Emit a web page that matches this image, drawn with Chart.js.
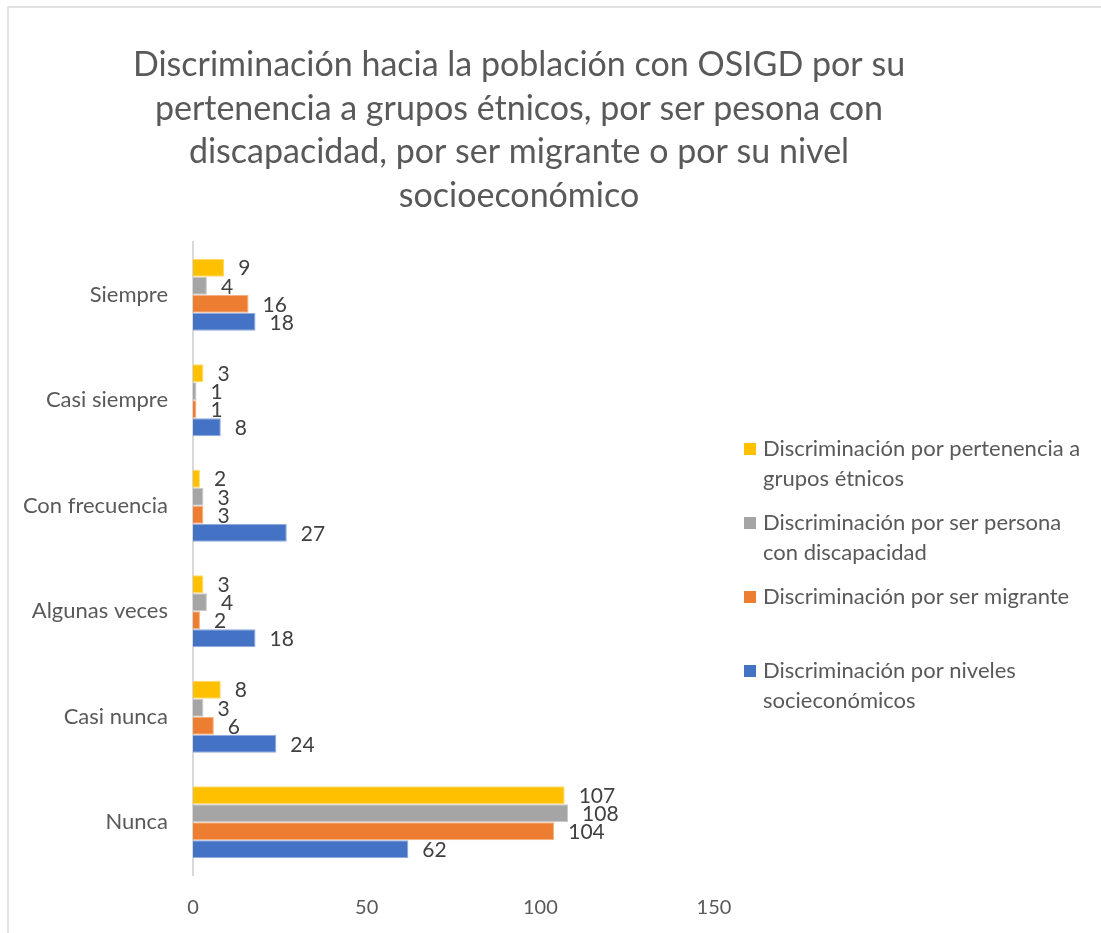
<!DOCTYPE html>
<html>
<head>
<meta charset="utf-8">
<script src="https://cdn.jsdelivr.net/npm/chart.js@4.4.1/dist/chart.umd.min.js"></script>
<style>
  html, body { margin: 0; padding: 0; background: #ffffff; }
  canvas { display: block; }
</style>
</head>
<body>
<canvas id="c" width="1101" height="933"></canvas>
<script>
const titleLines = [
  'Discriminación hacia la población con OSIGD por su',
  'pertenencia a grupos étnicos, por ser pesona con',
  'discapacidad, por ser migrante o por su nivel',
  'socioeconómico'
];
const categories = ['Siempre', 'Casi siempre', 'Con frecuencia', 'Algunas veces', 'Casi nunca', 'Nunca'];
const seriesNames = [
  'Discriminación por pertenencia a grupos étnicos',
  'Discriminación por ser persona con discapacidad',
  'Discriminación por ser migrante',
  'Discriminación por niveles socieconómicos'
];
const legendLines = [
  ['Discriminación por pertenencia a', 'grupos étnicos'],
  ['Discriminación por ser persona', 'con discapacidad'],
  ['Discriminación por ser migrante'],
  ['Discriminación por niveles', 'socieconómicos']
];
const etnicos      = [9, 3, 2, 3, 8, 107];
const discapacidad = [4, 1, 3, 4, 3, 108];
const migrante     = [16, 1, 3, 2, 6, 104];
const socioeco     = [18, 8, 27, 18, 24, 62];
const xTicks = [0, 50, 100, 150];

const colors = ['#FFC000', '#A5A5A5', '#ED7D31', '#4472C4'];
const borders = ['#FFD966', '#C9C9C9', '#F4B183', '#8FAADC'];
const FONT = 'Lato, "Open Sans", sans-serif';

const frame = {
  id: 'frame',
  beforeDraw(chart) {
    const ctx = chart.ctx;
    ctx.save();
    ctx.fillStyle = '#ffffff';
    ctx.fillRect(0, 0, chart.width, chart.height);
    ctx.strokeStyle = '#d9d9d9';
    ctx.lineWidth = 1.5;
    ctx.strokeRect(8, 7, chart.width + 20, chart.height + 20);
    ctx.restore();
  }
};

const titlePlugin = {
  id: 'customTitle',
  afterDraw(chart) {
    const ctx = chart.ctx;
    ctx.save();
    ctx.fillStyle = '#595959';
    ctx.font = '34px ' + FONT;
    ctx.textAlign = 'center';
    ctx.textBaseline = 'middle';
    titleLines.forEach((t, i) => ctx.fillText(t, 519, 65 + i * 43.7));
    ctx.restore();
  }
};

const legendPlugin = {
  id: 'customLegend',
  afterDraw(chart) {
    const ctx = chart.ctx;
    ctx.save();
    ctx.font = '22px ' + FONT;
    ctx.textAlign = 'left';
    ctx.textBaseline = 'middle';
    chart.data.datasets.forEach((ds, i) => {
      const y0 = 449 + i * 74;
      ctx.fillStyle = ds.backgroundColor;
      ctx.fillRect(744, y0 - 6, 12, 12);
      ctx.fillStyle = '#595959';
      legendLines[i].forEach((line, j) => ctx.fillText(line, 763, y0 + j * 30));
    });
    ctx.restore();
  }
};

const labelPlugin = {
  id: 'barLabels',
  afterDatasetsDraw(chart) {
    const ctx = chart.ctx;
    ctx.save();
    ctx.font = '21px ' + FONT;
    ctx.fillStyle = '#404040';
    ctx.textAlign = 'left';
    ctx.textBaseline = 'middle';
    chart.data.datasets.forEach((ds, i) => {
      const meta = chart.getDatasetMeta(i);
      meta.data.forEach((bar, j) => {
        ctx.fillText(String(ds.data[j]), bar.x + 14, bar.y + 1);
      });
    });
    ctx.restore();
  }
};

const seriesData = [etnicos, discapacidad, migrante, socioeco];

new Chart(document.getElementById('c'), {
  type: 'bar',
  data: {
    labels: categories,
    datasets: seriesNames.map((name, i) => ({
      label: name,
      data: seriesData[i],
      backgroundColor: colors[i],
      borderColor: borders[i],
      borderWidth: 1,
      barPercentage: 1.0,
      categoryPercentage: 0.683
    }))
  },
  options: {
    indexAxis: 'y',
    responsive: false,
    animation: false,
    layout: { padding: { top: 242, right: 387, left: 0, bottom: 0 } },
    plugins: {
      legend: { display: false },
      title: { display: false },
      tooltip: { enabled: false }
    },
    scales: {
      x: {
        min: 0,
        max: 150,
        afterBuildTicks(scale) { scale.ticks = xTicks.map(v => ({ value: v })); },
        afterFit(scale) { scale.height = 933 - 875; },
        grid: { display: false, drawTicks: false },
        border: { display: false },
        ticks: { color: '#595959', font: { family: FONT, size: 20 }, padding: 21 }
      },
      y: {
        afterFit(scale) { scale.width = 193; },
        grid: { display: false, drawTicks: false },
        border: { display: true, color: '#d9d9d9', width: 2 },
        ticks: { color: '#595959', font: { family: FONT, size: 22 }, padding: 25 }
      }
    }
  },
  plugins: [frame, titlePlugin, legendPlugin, labelPlugin]
});
</script>
</body>
</html>
